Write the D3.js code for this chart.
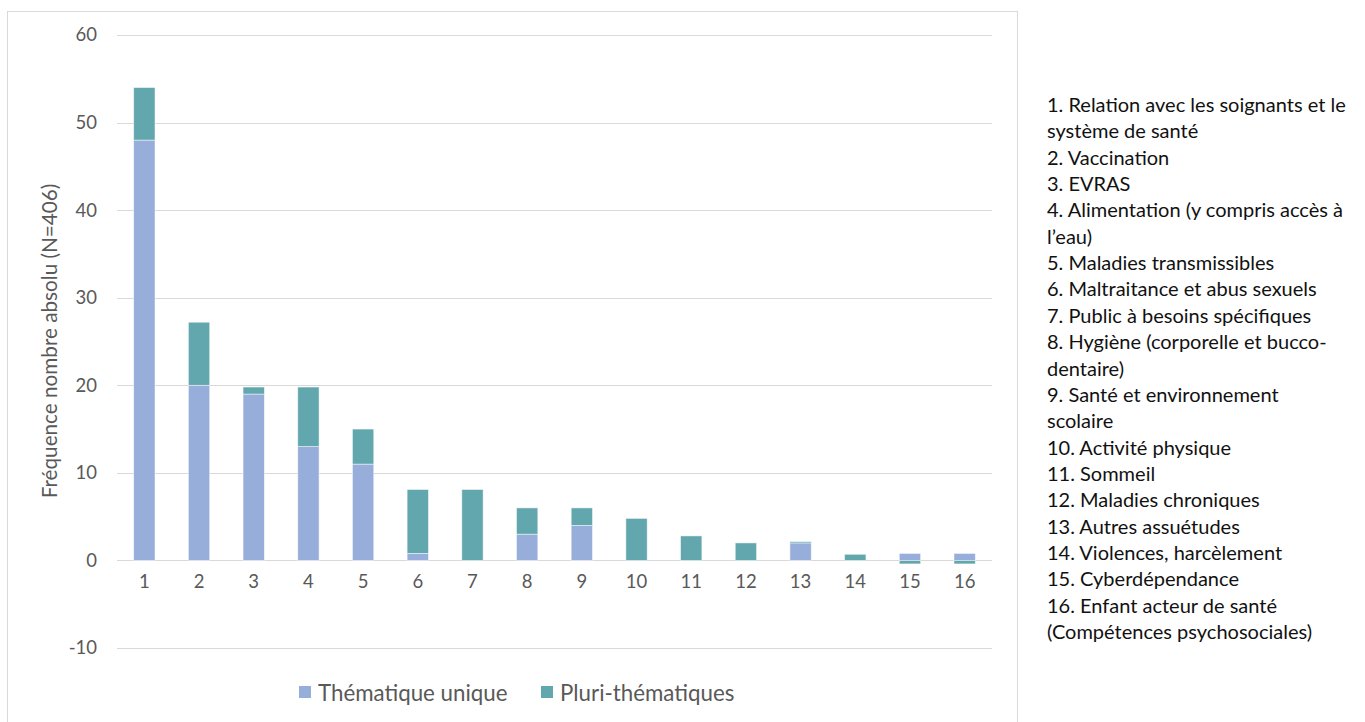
<!DOCTYPE html>
<html lang="fr">
<head>
<meta charset="utf-8">
<script src="https://cdn.jsdelivr.net/npm/d3@7"></script>
<style>
  html, body { margin: 0; padding: 0; background: #ffffff; }
  svg { display: block; font-family: Lato, "Open Sans", sans-serif; }
</style>
</head>
<body>
<svg id="chart" width="1365" height="722"></svg>
<script>
// Thèmes (numéros sur l'axe des abscisses)
const categories = ["1","2","3","4","5","6","7","8","9","10","11","12","13","14","15","16"];

// Fréquences par thème
const thematiqueUnique = [48, 20, 19, 13, 11, 0.8, 0, 3, 4, 0, 0, 0, 2, 0, 0.8, 0.8];
const pluriThematiques = [6, 7.2, 0.8, 6.8, 4, 7.3, 8.1, 3, 2, 4.8, 2.8, 2, 0.15, 0.7, -0.4, -0.4];

const seriesNames = ["Thématique unique", "Pluri-thématiques"];
const seriesColors = ["#97AEDA", "#63A7AE"];

const yTicks = [-10, 0, 10, 20, 30, 40, 50, 60];
const yTitle = "Fréquence nombre absolu (N=406)";

// Légende des thèmes (lignes telles qu'affichées)
const themeLines = [
  "1. Relation avec les soignants et le",
  "système de santé",
  "2. Vaccination",
  "3. EVRAS",
  "4. Alimentation (y compris accès à",
  "l\u2019eau)",
  "5. Maladies transmissibles",
  "6. Maltraitance et abus sexuels",
  "7. Public à besoins spécifiques",
  "8. Hygiène (corporelle et bucco-",
  "dentaire)",
  "9. Santé et environnement",
  "scolaire",
  "10. Activité physique",
  "11. Sommeil",
  "12. Maladies chroniques",
  "13. Autres assuétudes",
  "14. Violences, harcèlement",
  "15. Cyberdépendance",
  "16. Enfant acteur de santé",
  "(Compétences psychosociales)"
];

const svg = d3.select("#chart");

// Cadre de la zone graphique
svg.append("rect")
  .attr("x", 7.5).attr("y", 11.5)
  .attr("width", 1010).attr("height", 720)
  .attr("fill", "none").attr("stroke", "#d9d9d9").attr("stroke-width", 1);

const plot = { left: 117, right: 992, top: 35, bottom: 648 };

const x = d3.scaleBand()
  .domain(categories)
  .range([plot.left, plot.right])
  .paddingInner(0.61)
  .paddingOuter(0.305);

const y = d3.scaleLinear()
  .domain([-10, 60])
  .range([plot.bottom, plot.top]);

// Lignes de quadrillage horizontales
svg.append("g")
  .selectAll("line")
  .data(yTicks)
  .join("line")
  .attr("x1", plot.left).attr("x2", plot.right)
  .attr("y1", d => Math.round(y(d)) + 0.5)
  .attr("y2", d => Math.round(y(d)) + 0.5)
  .attr("stroke", "#d9d9d9").attr("stroke-width", 1.2);

// Axe Y
const yAxis = svg.append("g")
  .attr("transform", `translate(${plot.left - 20},0)`)
  .call(d3.axisLeft(y).tickValues(yTicks).tickSize(0).tickPadding(0).tickFormat(d => String(d)));
yAxis.select(".domain").remove();
yAxis.selectAll("text")
  .attr("fill", "#595959")
  .style("font-size", "18.5px")
  .style("font-family", "Lato, sans-serif");

// Titre de l'axe Y
svg.append("text")
  .attr("transform", `translate(52,341) rotate(-90)`)
  .attr("text-anchor", "middle")
  .attr("dominant-baseline", "middle")
  .attr("fill", "#595959")
  .style("font-size", "20.7px")
  .text(yTitle);

// Barres empilées (valeurs négatives empilées sous zéro)
const rows = categories.map((c, i) => ({
  cat: c,
  [seriesNames[0]]: thematiqueUnique[i],
  [seriesNames[1]]: pluriThematiques[i]
}));

const stacked = d3.stack()
  .keys(seriesNames)
  .offset(d3.stackOffsetDiverging)(rows);

svg.append("g")
  .selectAll("g")
  .data(stacked)
  .join("g")
  .attr("fill", (d, i) => seriesColors[i])
  .selectAll("rect")
  .data(d => d)
  .join("rect")
  .attr("x", d => x(d.data.cat))
  .attr("width", x.bandwidth())
  .attr("y", d => y(Math.max(d[0], d[1])))
  .attr("height", d => Math.abs(y(d[0]) - y(d[1])))
  .attr("stroke", "#ffffff")
  .attr("stroke-opacity", 0.6)
  .attr("stroke-width", 0.8);

// Axe X (étiquettes sous la ligne zéro)
const xAxis = svg.append("g")
  .attr("transform", `translate(0,${y(0) + 14})`)
  .call(d3.axisBottom(x).tickSize(0).tickPadding(0));
xAxis.select(".domain").remove();
xAxis.selectAll("text")
  .attr("fill", "#595959")
  .style("font-size", "18.5px")
  .style("font-family", "Lato, sans-serif");

// Légende des séries
const legend = svg.append("g");
const legendX = [299, 541];
seriesNames.forEach((name, i) => {
  legend.append("rect")
    .attr("x", legendX[i]).attr("y", 686)
    .attr("width", 12).attr("height", 12)
    .attr("fill", seriesColors[i]);
  legend.append("text")
    .attr("x", legendX[i] + 19).attr("y", 692)
    .attr("dominant-baseline", "central")
    .attr("fill", "#595959")
    .style("font-size", "22.3px")
    .text(name);
});

// Liste des thèmes à droite
svg.append("g")
  .selectAll("text")
  .data(themeLines)
  .join("text")
  .attr("x", 1047)
  .attr("y", (d, i) => 104 + i * 26.35)
  .attr("dominant-baseline", "central")
  .attr("fill", "#111111")
  .style("font-size", "20px")
  .text(d => d);
</script>
</body>
</html>
